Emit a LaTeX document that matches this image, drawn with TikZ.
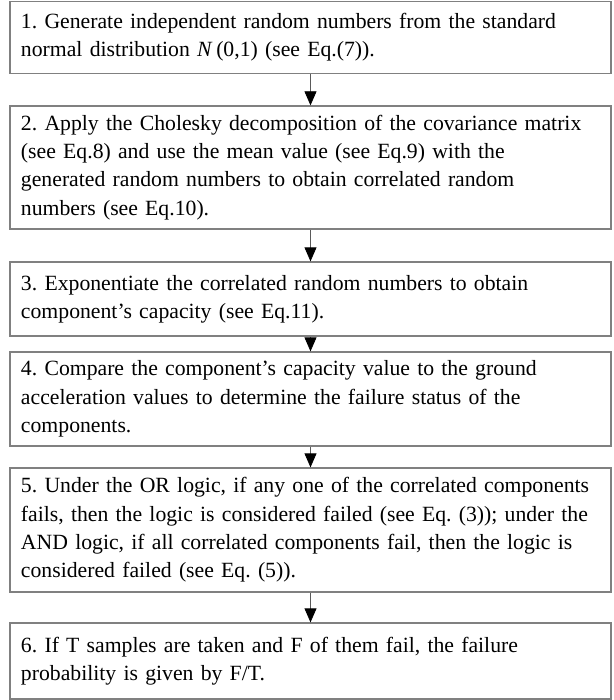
\documentclass[tikz,border=0pt]{standalone}
\usepackage{fontspec}
\setmainfont{Liberation Serif}
\usetikzlibrary{positioning,arrows.meta}
\definecolor{boxline}{RGB}{128,128,128}
\definecolor{arrline}{RGB}{90,90,90}
\frenchspacing

\begin{document}
\begin{tikzpicture}[x=1bp, y=1bp,
  stepbox/.style={draw=boxline, line width=1.3bp, text width=579bp, inner xsep=11bp,
                  inner ysep=0pt, minimum height=#1, align=left,
                  font=\fontsize{21.8}{28.4}\selectfont},
  ar/.style={draw=arrline, line width=0.8bp, -{Triangle[width=12bp,length=14bp,color=black]}},
]
\useasboundingbox (0,0) rectangle (614,-700);

\node[stepbox=72bp]  (gen)  at (310.5,-37.5)  {1. Generate independent random numbers from the standard\\
  normal distribution \textit{N}\,(0,1) (see Eq.(7)).};
\node[stepbox=123bp] (chol) at (310.5,-167.5) {2. Apply the Cholesky decomposition of the covariance matrix\\
  (see Eq.8) and use the mean value (see Eq.9) with the\\
  generated random numbers to obtain correlated random\\
  numbers (see Eq.10).};
\node[stepbox=74bp]  (expo) at (310.5,-299)   {3. Exponentiate the correlated random numbers to obtain\\
  component's capacity (see Eq.11).};
\node[stepbox=94bp]  (comp) at (310.5,-399)   {4. Compare the component's capacity value to the ground\\
  acceleration values to determine the failure status of the\\
  components.};
\node[stepbox=124bp] (logic) at (310.5,-530) {5. Under the OR logic, if any one of the correlated components\\
  fails, then the logic is considered failed (see Eq. (3)); under the\\
  AND logic, if all correlated components fail, then the logic is\\
  considered failed (see Eq. (5)).};
\node[stepbox=76bp]  (prob) at (310.5,-661)   {6. If T samples are taken and F of them fail, the failure\\
  probability is given by F/T.};

\draw[ar] (gen)  -- (chol);
\draw[ar] (chol) -- (expo);
\draw[ar] (expo) -- (comp);
\draw[ar] (comp) -- (logic);
\draw[ar] (logic) -- (prob);
\end{tikzpicture}
\end{document}
